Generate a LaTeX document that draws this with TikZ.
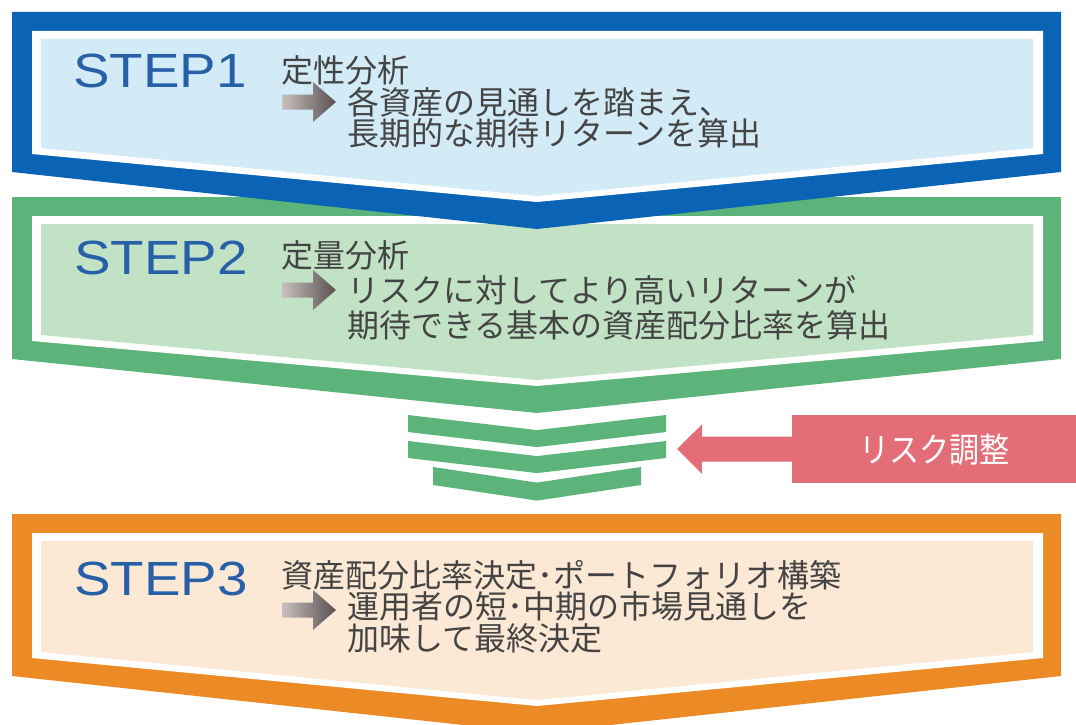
\documentclass[tikz,border=0pt]{standalone}
\usepackage{fontspec}
\setmainfont{Liberation Sans}
\newfontfamily\jpfont{Noto Sans CJK JP}
\usetikzlibrary{arrows.meta}
\definecolor{bluebd}{HTML}{0B63B5}
\definecolor{bluefill}{HTML}{D3EAF7}
\definecolor{greenbd}{HTML}{5CB47A}
\definecolor{greenfill}{HTML}{C2E2C6}
\definecolor{orangebd}{HTML}{EC8B26}
\definecolor{orangefill}{HTML}{FBE8D5}
\definecolor{redbox}{HTML}{E36E78}
\definecolor{steptext}{HTML}{2860A8}
\definecolor{jptext}{HTML}{444444}
\definecolor{arrowlight}{HTML}{C8C0BE}
\definecolor{arrowdark}{HTML}{585050}
% T = top, B = outer bottom corners, D = tip depth
\newcommand\drawchevron[5]{%
  \pgfmathsetmacro\chT{#1}\pgfmathsetmacro\chB{#2}\pgfmathsetmacro\chC{#2+#3}%
  \fill[#4] (12,\chT) -- (1061,\chT) -- (1061,\chB) -- (537,\chC) -- (12,\chB) -- cycle;
  \fill[white] (32,\chT+19) -- (1043,\chT+19) -- (1043,\chB-18) -- (537,\chC-27) -- (32,\chB-18) -- cycle;
  \fill[#5] (41,\chT+27) -- (1033,\chT+27) -- (1033,\chB-24) -- (537,\chC-33) -- (41,\chB-24) -- cycle;
}
\newcommand\grayarrow[1]{%
  \pgfmathsetmacro\arC{#1}%
  \shade[left color=arrowlight, right color=arrowdark]
    (282,\arC-7.5) -- (313,\arC-7.5) -- (313,\arC-20) -- (336,\arC) -- (313,\arC+20)
    -- (313,\arC+7.5) -- (282,\arC+7.5) -- cycle;
}
\newcommand\stripe[5]{% xl, xr, ytop, thickness, slope
  \pgfmathsetmacro\stA{#3}\pgfmathsetmacro\stB{#3+(537-#1)*#5}%
  \fill[greenbd] (#1,\stA) -- (537,\stB) -- (#2,\stA) -- (#2,\stA+#4) -- (537,\stB+#4) -- (#1,\stA+#4) -- cycle;
}
\begin{document}
\begin{tikzpicture}[x=1pt,y=-1pt,
  steplabel/.style={anchor=base west, inner sep=0pt, text=steptext,
    font=\fontsize{48}{48}\selectfont},
  jpline/.style={anchor=base west, inner sep=0pt, text=jptext,
    font=\jpfont\fontsize{32}{32}\selectfont},
  riskbox/.style={fill=redbox, text=white, inner sep=0pt,
    minimum width=284, minimum height=68, anchor=north west,
    font=\jpfont\fontsize{31}{31}\selectfont}]
\useasboundingbox (0,0) rectangle (1076,725);
\fill[white] (0,0) rectangle (1076,725);

% chevrons (STEP2 and STEP3 first, STEP1 on top)
\drawchevron{514}{676}{57}{orangebd}{orangefill}
\drawchevron{197}{359}{54}{greenbd}{greenfill}
\drawchevron{12}{172}{57}{bluebd}{bluefill}

% stacked stripes
\stripe{408}{666}{415}{17}{0.117}
\stripe{408}{666}{441}{17}{0.117}
\stripe{433}{641}{467}{18}{0.15}

% risk adjustment box and arrow
\node[riskbox] (risk) at (792,415) {\scalebox{0.97}[1.1]{リスク調整}};
\coordinate (riskend) at (677,449);
\draw[redbox, line width=25pt, -{Triangle[length=25pt, width=48pt]}] (risk.west) -- (riskend);

% STEP labels
\node[steplabel] (s1) at (73,87) {\scalebox{1.14}[1]{STEP1}};
\node[steplabel] (s2) at (74,274) {\scalebox{1.14}[1]{STEP2}};
\node[steplabel] (s3) at (74,595) {\scalebox{1.14}[1]{STEP3}};

% gray arrows
\grayarrow{102}
\grayarrow{290}
\grayarrow{610}

% texts
\node[jpline] (t1a) at (281,82) {定性分析};
\node[jpline] (t1b) at (347,114) {各資産の見通しを踏まえ、};
\node[jpline] (t1c) at (347,145) {長期的な期待リターンを算出};

\node[jpline] (t2a) at (281,267) {定量分析};
\node[jpline] (t2b) at (347,302) {リスクに対してより高いリターンが};
\node[jpline] (t2c) at (347,337) {期待できる基本の資産配分比率を算出};

\node[jpline] (t3a) at (281,587) {資産配分比率決定･ポートフォリオ構築};
\node[jpline] (t3b) at (347,618) {運用者の短･中期の市場見通しを};
\node[jpline] (t3c) at (347,650) {加味して最終決定};
\end{tikzpicture}
\end{document}
